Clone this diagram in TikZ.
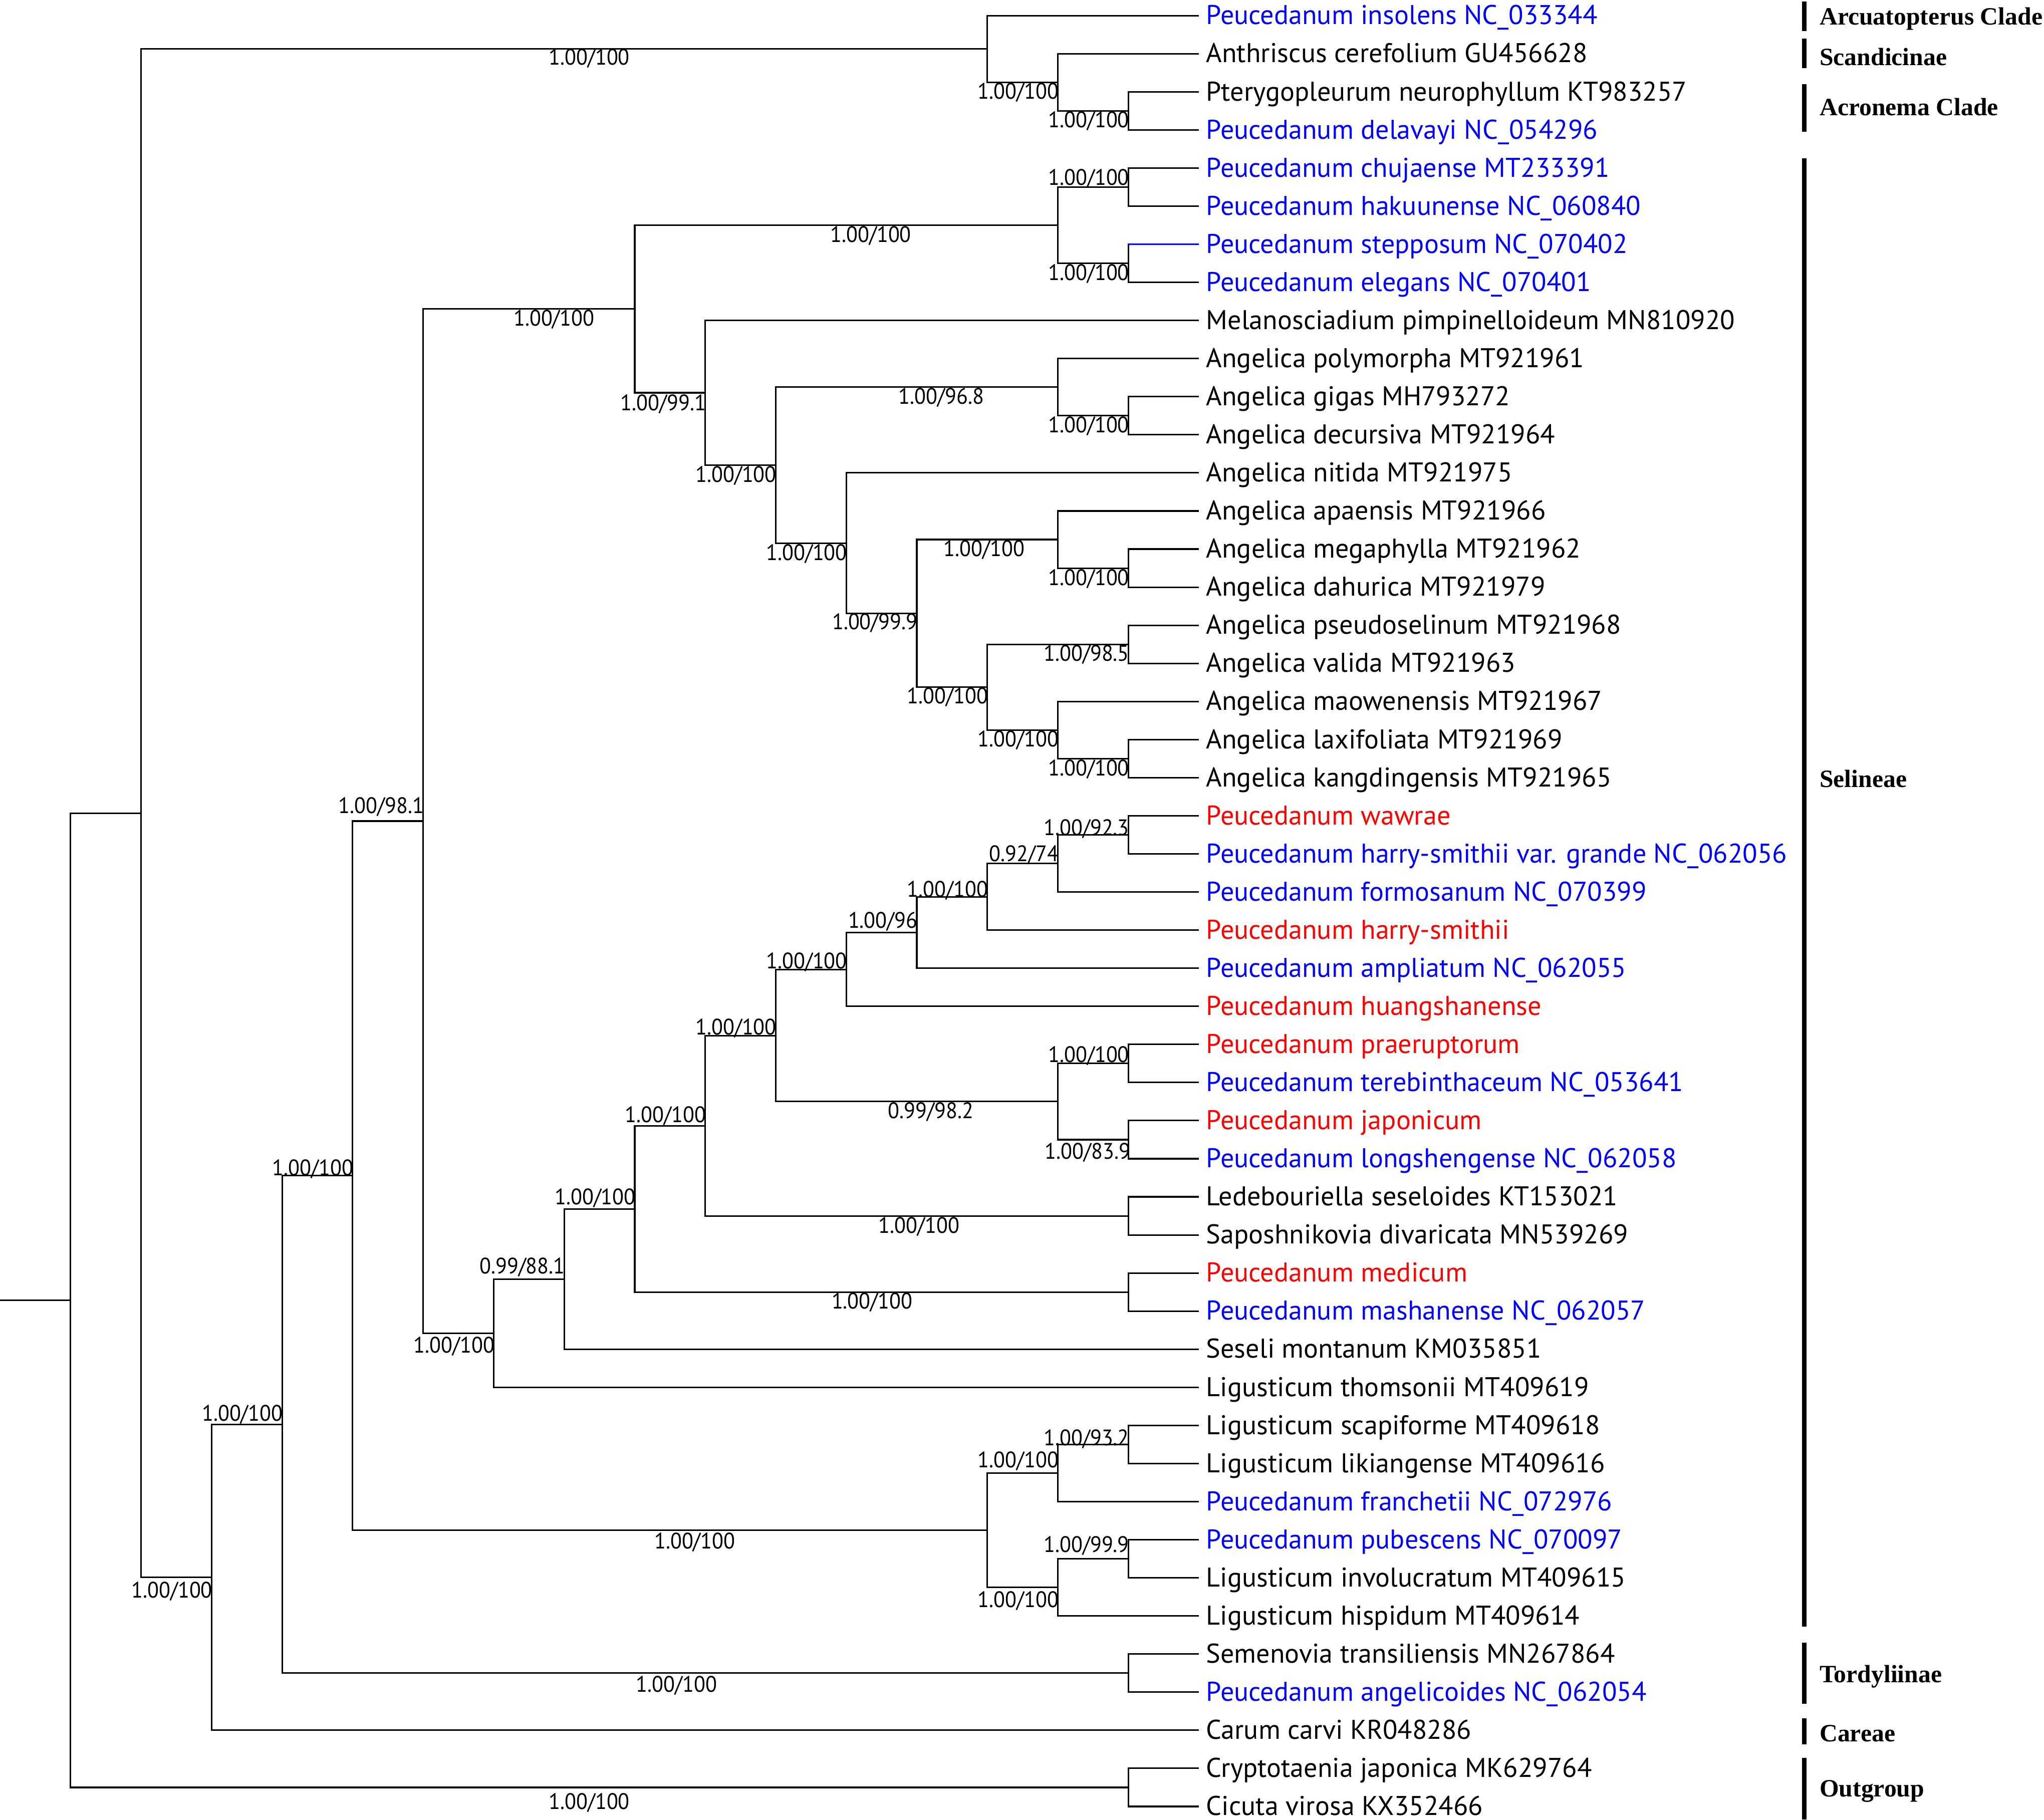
\documentclass[tikz,border=0pt]{standalone}
\usepackage{fontspec}
\usepackage{xcolor}
\usepackage{tikz}
\newfontfamily\leaffont{PT Sans}
\newfontfamily\supfont{PT Sans}[FakeStretch=0.94]
\newfontfamily\cladefont{Liberation Serif}

\begin{document}
\begin{tikzpicture}[x=0.5pt, y=-0.5pt,
    br/.style={line width=0.6pt},
    taxon/.style={anchor=base west, inner sep=0pt, xshift=2.6pt, yshift=-3.4pt, font=\leaffont\fontsize{10.4}{12}\selectfont},
    btaxon/.style={taxon, text=blue},
    rtaxon/.style={taxon, text=red},
    bs/.style={inner sep=0pt, font=\supfont\fontsize{8.6}{10}\selectfont},
    cbar/.style={line width=1.75pt},
    clade/.style={anchor=base west, inner sep=0pt, font=\cladefont\bfseries\fontsize{9.55}{11}\selectfont}]
  \useasboundingbox (0,0) rectangle (1568,1396);

  % tips
  \foreach \i in {1,...,48}
    \coordinate (t\i) at (919.7, {12+(\i-1)*29.23});

  % internal nodes
  \coordinate (root) at (0,997.5);
  \coordinate (R) at (54.1,997.5);
  \coordinate (A) at (108.2,623.8);
  \coordinate (B) at (757.4,37.6);
  \coordinate (B1) at (811.5,63.15);
  \coordinate (B2) at (865.6,85.1);
  \coordinate (C) at (162.3,1210.05);
  \coordinate (D) at (216.4,1092.7);
  \coordinate (T) at (865.6,1283.5);
  \coordinate (O) at (865.6,1371.2);
  \coordinate (E) at (270.5,901.9);
  \coordinate (G) at (757.4,1173.9);
  \coordinate (G1) at (811.5,1130.05);
  \coordinate (G1a) at (865.6,1108.1);
  \coordinate (G2) at (811.5,1217.75);
  \coordinate (G2a) at (865.6,1195.8);
  \coordinate (F) at (324.6,629.9);
  \coordinate (H) at (486.9,237.05);
  \coordinate (H1) at (811.5,172.8);
  \coordinate (H1a) at (865.6,143.55);
  \coordinate (H1b) at (865.6,202);
  \coordinate (H2) at (541,301.3);
  \coordinate (H3) at (595.1,356.85);
  \coordinate (H4) at (811.5,297);
  \coordinate (H4a) at (865.6,318.9);
  \coordinate (H5) at (649.2,416.7);
  \coordinate (H6) at (703.3,470.55);
  \coordinate (H7) at (811.5,413.9);
  \coordinate (H7a) at (865.6,435.85);
  \coordinate (H8) at (757.4,527.2);
  \coordinate (H9) at (865.6,494.3);
  \coordinate (H10) at (811.5,560.05);
  \coordinate (H10a) at (865.6,582);
  \coordinate (I) at (378.7,1022.8);
  \coordinate (J) at (432.8,981.25);
  \coordinate (K) at (486.9,927.4);
  \coordinate (M) at (541,863.6);
  \coordinate (N) at (865.6,991.2);
  \coordinate (P) at (595.1,794.4);
  \coordinate (Q) at (865.6,932.75);
  \coordinate (S) at (649.2,743.7);
  \coordinate (U) at (811.5,845.05);
  \coordinate (U1) at (865.6,815.8);
  \coordinate (U2) at (865.6,874.3);
  \coordinate (V) at (703.3,715.4);
  \coordinate (W) at (757.4,687.95);
  \coordinate (X) at (811.5,662.4);
  \coordinate (X1) at (865.6,640.45);

  % branches
  \draw[br] (root) -- (R);
  \foreach \p/\c in {R/A, R/O, A/B, A/C, B/t1, B/B1, B1/t2, B1/B2, B2/t3, B2/t4,
      C/D, C/t46, D/E, D/T, T/t44, T/t45, O/t47, O/t48,
      E/F, E/G, G/G1, G/G2, G1/G1a, G1/t40, G1a/t38, G1a/t39, G2/G2a, G2/t43, G2a/t41, G2a/t42,
      F/H, F/I, H/H1, H/H2, H1/H1a, H1/H1b, H1a/t5, H1a/t6, H1b/t7, H1b/t8,
      H2/t9, H2/H3, H3/H4, H3/H5, H4/t10, H4/H4a, H4a/t11, H4a/t12,
      H5/t13, H5/H6, H6/H7, H6/H8, H7/t14, H7/H7a, H7a/t15, H7a/t16,
      H8/H9, H8/H10, H9/t17, H9/t18, H10/t19, H10/H10a, H10a/t20, H10a/t21,
      I/J, I/t37, J/K, J/t36, K/M, K/N, N/t34, N/t35, M/P, M/Q, Q/t32, Q/t33,
      P/S, P/U, U/U1, U/U2, U1/t28, U1/t29, U2/t30, U2/t31,
      S/V, S/t27, V/W, V/t26, W/X, W/t25, X/X1, X/t24, X1/t22, X1/t23}
    \draw[br] (\p) |- (\c);
  \draw[br, blue] (t7 -| H1b) -- (t7);

  % taxa
  \node[btaxon] (l1) at (t1) {Peucedanum insolens NC\_033344};
  \node[taxon] (l2) at (t2) {Anthriscus cerefolium GU456628};
  \node[taxon] (l3) at (t3) {Pterygopleurum neurophyllum KT983257};
  \node[btaxon] (l4) at (t4) {Peucedanum delavayi NC\_054296};
  \node[btaxon] (l5) at (t5) {Peucedanum chujaense MT233391};
  \node[btaxon] (l6) at (t6) {Peucedanum hakuunense NC\_060840};
  \node[btaxon] (l7) at (t7) {Peucedanum stepposum NC\_070402};
  \node[btaxon] (l8) at (t8) {Peucedanum elegans NC\_070401};
  \node[taxon] (l9) at (t9) {Melanosciadium pimpinelloideum MN810920};
  \node[taxon] (l10) at (t10) {Angelica polymorpha MT921961};
  \node[taxon] (l11) at (t11) {Angelica gigas MH793272};
  \node[taxon] (l12) at (t12) {Angelica decursiva MT921964};
  \node[taxon] (l13) at (t13) {Angelica nitida MT921975};
  \node[taxon] (l14) at (t14) {Angelica apaensis MT921966};
  \node[taxon] (l15) at (t15) {Angelica megaphylla MT921962};
  \node[taxon] (l16) at (t16) {Angelica dahurica MT921979};
  \node[taxon] (l17) at (t17) {Angelica pseudoselinum MT921968};
  \node[taxon] (l18) at (t18) {Angelica valida MT921963};
  \node[taxon] (l19) at (t19) {Angelica maowenensis MT921967};
  \node[taxon] (l20) at (t20) {Angelica laxifoliata MT921969};
  \node[taxon] (l21) at (t21) {Angelica kangdingensis MT921965};
  \node[rtaxon] (l22) at (t22) {Peucedanum wawrae};
  \node[btaxon] (l23) at (t23) {Peucedanum harry-smithii var. grande NC\_062056};
  \node[btaxon] (l24) at (t24) {Peucedanum formosanum NC\_070399};
  \node[rtaxon] (l25) at (t25) {Peucedanum harry-smithii};
  \node[btaxon] (l26) at (t26) {Peucedanum ampliatum NC\_062055};
  \node[rtaxon] (l27) at (t27) {Peucedanum huangshanense};
  \node[rtaxon] (l28) at (t28) {Peucedanum praeruptorum};
  \node[btaxon] (l29) at (t29) {Peucedanum terebinthaceum NC\_053641};
  \node[rtaxon] (l30) at (t30) {Peucedanum japonicum};
  \node[btaxon] (l31) at (t31) {Peucedanum longshengense NC\_062058};
  \node[taxon] (l32) at (t32) {Ledebouriella seseloides KT153021};
  \node[taxon] (l33) at (t33) {Saposhnikovia divaricata MN539269};
  \node[rtaxon] (l34) at (t34) {Peucedanum medicum};
  \node[btaxon] (l35) at (t35) {Peucedanum mashanense NC\_062057};
  \node[taxon] (l36) at (t36) {Seseli montanum KM035851};
  \node[taxon] (l37) at (t37) {Ligusticum thomsonii MT409619};
  \node[taxon] (l38) at (t38) {Ligusticum scapiforme MT409618};
  \node[taxon] (l39) at (t39) {Ligusticum likiangense MT409616};
  \node[btaxon] (l40) at (t40) {Peucedanum franchetii NC\_072976};
  \node[btaxon] (l41) at (t41) {Peucedanum pubescens NC\_070097};
  \node[taxon] (l42) at (t42) {Ligusticum involucratum MT409615};
  \node[taxon] (l43) at (t43) {Ligusticum hispidum MT409614};
  \node[taxon] (l44) at (t44) {Semenovia transiliensis MN267864};
  \node[btaxon] (l45) at (t45) {Peucedanum angelicoides NC\_062054};
  \node[taxon] (l46) at (t46) {Carum carvi KR048286};
  \node[taxon] (l47) at (t47) {Cryptotaenia japonica MK629764};
  \node[taxon] (l48) at (t48) {Cicuta virosa KX352466};

  % support values (PP/BS)
  \node[bs] (s1) at (452,45) {1.00/100};
  \node[bs, anchor=east] (s2) at (812.5,71) {1.00/100};
  \node[bs, anchor=east] (s3) at (866.6,93) {1.00/100};
  \node[bs, anchor=east] (s4) at (866.6,137) {1.00/100};
  \node[bs] (s5) at (668,181) {1.00/100};
  \node[bs, anchor=east] (s6) at (866.6,210) {1.00/100};
  \node[bs] (s7) at (425,245) {1.00/100};
  \node[bs, anchor=east] (s8) at (542,310) {1.00/99.1};
  \node[bs] (s9) at (722,305) {1.00/96.8};
  \node[bs, anchor=east] (s10) at (866.6,327) {1.00/100};
  \node[bs, anchor=east] (s11) at (596,365) {1.00/100};
  \node[bs, anchor=east] (s12) at (650.2,425) {1.00/100};
  \node[bs] (s13) at (755,422) {1.00/100};
  \node[bs, anchor=east] (s14) at (866.6,444) {1.00/100};
  \node[bs, anchor=east] (s15) at (704.3,478) {1.00/99.9};
  \node[bs, anchor=east] (s16) at (866.6,502) {1.00/98.5};
  \node[bs, anchor=east] (s17) at (758.4,535) {1.00/100};
  \node[bs, anchor=east] (s18) at (812.5,568) {1.00/100};
  \node[bs, anchor=east] (s19) at (866.6,590) {1.00/100};
  \node[bs, anchor=east] (s20) at (325.6,619) {1.00/98.1};
  \node[bs, anchor=east] (s21) at (866.6,636) {1.00/92.3};
  \node[bs, anchor=east] (s22) at (812.5,656) {0.92/74};
  \node[bs, anchor=east] (s23) at (758.4,683) {1.00/100};
  \node[bs, anchor=east] (s24) at (704.3,707) {1.00/96};
  \node[bs, anchor=east] (s25) at (650.2,738) {1.00/100};
  \node[bs, anchor=east] (s26) at (596,789) {1.00/100};
  \node[bs, anchor=east] (s27) at (866.6,810) {1.00/100};
  \node[bs] (s28) at (714,853) {0.99/98.2};
  \node[bs, anchor=east] (s29) at (867.5,884) {1.00/83.9};
  \node[bs, anchor=east] (s30) at (542,856) {1.00/100};
  \node[bs] (s31) at (705,941) {1.00/100};
  \node[bs, anchor=east] (s32) at (488,919) {1.00/100};
  \node[bs] (s33) at (669,999) {1.00/100};
  \node[bs, anchor=east] (s34) at (433.8,972) {0.99/88.1};
  \node[bs, anchor=east] (s35) at (379.7,1033) {1.00/100};
  \node[bs, anchor=east] (s36) at (271.5,897) {1.00/100};
  \node[bs, anchor=east] (s37) at (866.6,1104) {1.00/93.2};
  \node[bs, anchor=east] (s38) at (812.5,1121) {1.00/100};
  \node[bs] (s39) at (533,1183) {1.00/100};
  \node[bs, anchor=east] (s40) at (866.6,1186) {1.00/99.9};
  \node[bs, anchor=east] (s41) at (812.5,1228) {1.00/100};
  \node[bs, anchor=east] (s42) at (217.4,1085) {1.00/100};
  \node[bs] (s43) at (519,1293) {1.00/100};
  \node[bs, anchor=east] (s44) at (163.3,1221) {1.00/100};
  \node[bs] (s45) at (452,1383) {1.00/100};

  % clade bars
  \draw[cbar] (1384,1.3) -- (1384,23.7);
  \draw[cbar] (1384,29.7) -- (1384,52.2);
  \draw[cbar] (1384,64.7) -- (1384,101.2);
  \draw[cbar] (1384,121.4) -- (1384,1248);
  \draw[cbar] (1384,1260) -- (1384,1307);
  \draw[cbar] (1384,1318) -- (1384,1338);
  \draw[cbar] (1384,1348.6) -- (1384,1396);

  \node[clade] (arc) at (1395.5,19.2) {Arcuatopterus Clade};
  \node[clade] (sca) at (1395.5,50) {Scandicinae};
  \node[clade] (acr) at (1395.5,88.4) {Acronema Clade};
  \node[clade] (sel) at (1395.5,604) {Selineae};
  \node[clade] (tor) at (1395.5,1290.6) {Tordyliinae};
  \node[clade] (car) at (1395.5,1336.2) {Careae};
  \node[clade] (out) at (1395.5,1378.2) {Outgroup};
\end{tikzpicture}
\end{document}
